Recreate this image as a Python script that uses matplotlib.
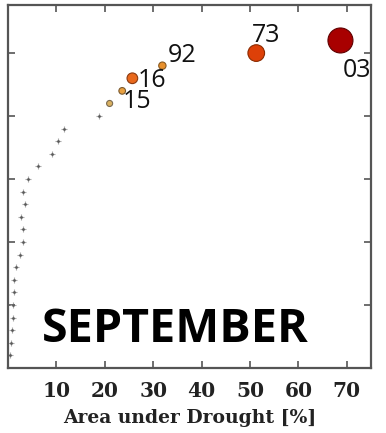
import matplotlib
matplotlib.use("Agg")
import matplotlib.pyplot as plt

# Background years (gray markers)
gray_x = [0.5, 0.7, 0.75, 0.95, 0.95, 1.25, 1.25, 1.7, 2.5, 3.0, 3.2, 2.75, 3.5, 3.2, 4.05, 6.3, 9.0, 10.3, 11.5, 18.9]
gray_y = [0.2, 0.4, 0.6, 0.8, 1.0, 1.2, 1.4, 1.6, 1.8, 2.0, 2.2, 2.4, 2.6, 2.8, 3.0, 3.2, 3.4, 3.6, 3.8, 4.0]

# Highlighted years
event_x = [21.0, 23.6, 25.7, 31.9, 51.3, 68.7]
event_y = [4.2, 4.4, 4.6, 4.8, 5.0, 5.2]
event_label = ["", "15", "16", "92", "73", "03"]
event_color = ["#d9b060", "#e8a040", "#e8681c", "#e8902c", "#dd4008", "#a80000"]
event_size = [19, 23, 59, 28, 144, 324]
label_offset = [(0, 0), (0, -8), (4, -1.5), (4, 7.5), (-3, 13), (1.5, -21.5)]

x_ticks = [10, 20, 30, 40, 50, 60, 70]
y_ticks = [1, 2, 3, 4, 5]

fig = plt.figure(figsize=(3.86, 4.33), dpi=100)
ax = fig.add_axes([0.0207, 0.150, 0.9403, 0.838])

ax.plot(gray_x, gray_y, linestyle="none", marker="+", ms=4, mew=0.8, color="#a8a8a8")
ax.plot(gray_x, gray_y, linestyle="none", marker="o", ms=2.0, mew=0, color="#5a5a5a")

edge = ["#7a6a50", "#7a5a30", "#8a3a10", "#8a5a20", "#8a2a00", "#600000"]
ax.scatter(event_x, event_y, s=event_size, c=event_color, edgecolors=edge, linewidths=0.8, zorder=3)

for x, y, lab, off in zip(event_x, event_y, event_label, label_offset):
    if lab:
        ax.annotate(lab, (x, y), xytext=off, textcoords="offset points",
                    ha="left", va="center", fontsize=18, family="Open Sans", color="#111111")

ax.text(0.46, 0.0716, "SEPTEMBER", transform=ax.transAxes, ha="center", va="baseline",
        fontsize=33.6, fontweight="bold", family="Open Sans", color="black")

ax.set_xlim(0, 75)
ax.set_ylim(0, 5.76)
ax.set_xticks(x_ticks)
ax.set_yticks(y_ticks)
ax.set_yticklabels([])
ax.tick_params(direction="in", length=5, width=1.2, color="#555555",
               top=True, right=True, labelsize=14.5, pad=9)
for lbl in ax.get_xticklabels():
    lbl.set_family("DejaVu Serif")
    lbl.set_fontweight("bold")
    lbl.set_color("#222222")
for s in ax.spines.values():
    s.set_color("#555555")
    s.set_linewidth(1.6)

ax.set_xlabel("Area under Drought [%]", family="DejaVu Serif", fontweight="bold",
              fontsize=13.5, color="#222222", labelpad=6)

fig.savefig("out.png", dpi=100)
